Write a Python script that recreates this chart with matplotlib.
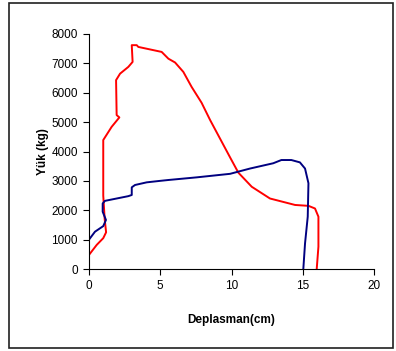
import matplotlib.pyplot as plt
from matplotlib.patches import Rectangle

plt.rcParams['font.family'] = ['Liberation Sans', 'DejaVu Sans']

# red curve (deplasman cm, yuk kg)
red_x = [0.0, 0.54, 1.0, 1.2, 1.1, 1.0, 1.0, 1.59, 2.13, 1.94, 1.9, 2.18, 2.76, 3.06,
         3.0, 3.35, 3.46, 5.1, 5.57, 6.04, 6.62, 7.2, 7.9, 8.5, 9.9, 10.48, 11.42,
         12.7, 14.46, 15.4, 15.86, 16.1, 16.1, 15.98]
red_y = [480, 820, 1050, 1250, 1700, 2500, 4390, 4840, 5160, 5240, 6430, 6650, 6880, 7050,
         7620, 7620, 7560, 7390, 7160, 7030, 6710, 6200, 5660, 5070, 3800, 3280, 2800,
         2400, 2180, 2150, 2060, 1780, 760, 0]

# blue curve
blue_x = [0.0, 0.42, 1.0, 1.19, 0.96, 0.96, 1.12, 2.76, 3.0, 3.0, 3.23, 4.05, 4.98, 5.57,
          7.56, 9.9, 11.3, 12.93, 13.5, 14.2, 14.8, 15.16, 15.4, 15.35, 15.16, 15.04]
blue_y = [1000, 1270, 1460, 1670, 1950, 2230, 2320, 2480, 2520, 2780, 2860, 2950, 3000, 3030,
          3120, 3240, 3420, 3600, 3710, 3710, 3630, 3420, 2920, 1780, 870, 0]

fig = plt.figure(figsize=(3.96, 3.51), dpi=100)
fig.patches.append(Rectangle((9 / 396, 1 - 348 / 351), (393 - 9) / 396, (348 - 3) / 351,
                             transform=fig.transFigure, fill=False, edgecolor='#202020',
                             linewidth=1.2))
ax = fig.add_axes([89 / 396, 1 - 269 / 351, (374 - 89) / 396, (269 - 34) / 351])

ax.plot(red_x, red_y, color='#ff0000', linewidth=1.4)
ax.plot(blue_x, blue_y, color='#000080', linewidth=1.4)

ax.set_xlim(0, 20)
ax.set_ylim(0, 8000)
ax.set_xticks([0, 5, 10, 15, 20])
ax.set_yticks(range(0, 8001, 1000))
ax.spines['top'].set_visible(False)
ax.spines['right'].set_visible(False)
ax.tick_params(direction='out', length=4, labelsize=8.5, pad=4)
ax.set_xlabel('Deplasman(cm)', fontsize=8.5, fontweight='bold', labelpad=16)
ax.set_ylabel('Yük (kg)', fontsize=8.5, fontweight='bold', labelpad=2)

fig.savefig('out.png', dpi=100)
